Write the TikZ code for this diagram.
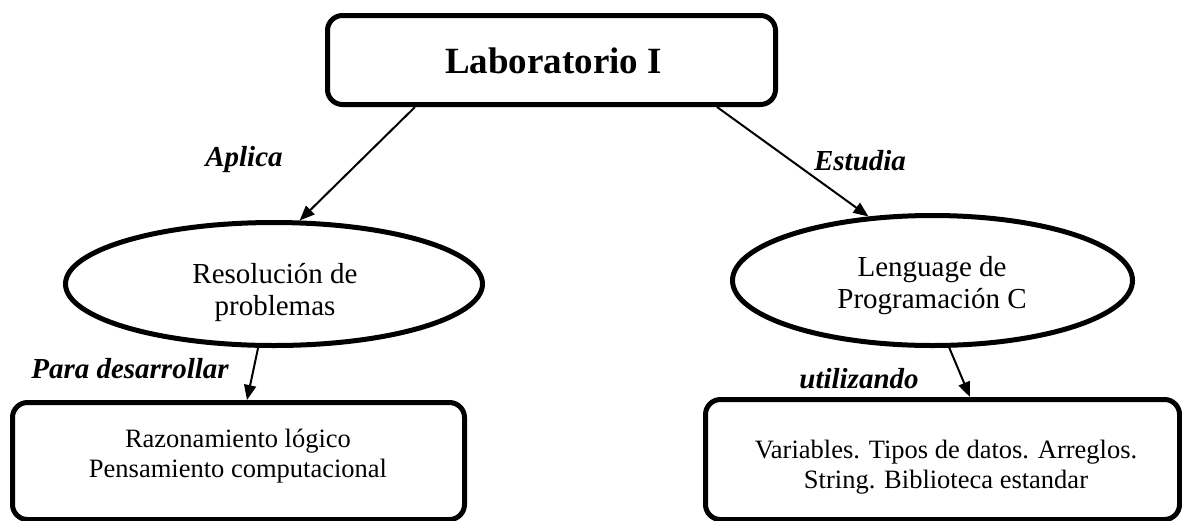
\documentclass[tikz,border=0pt]{standalone}
\usepackage{fontspec}
\setmainfont{Liberation Serif}
\usetikzlibrary{shapes.geometric,arrows.meta}
\begin{document}
\begin{tikzpicture}[x=1pt,y=-1pt,
  shapeline/.style={draw=black,line width=5pt},
  roundbox/.style={shapeline,rectangle,rounded corners=15pt,inner sep=0pt},
  oval/.style={shapeline,ellipse,inner sep=0pt},
  txt/.style={anchor=base,inner sep=0pt,align=center,font=\fontsize{26.5}{30}\selectfont},
  ovaltxt/.style={anchor=base,inner sep=0pt,align=center,font=\fontsize{29}{32}\selectfont},
  titletxt/.style={anchor=base,inner sep=0pt,font=\fontsize{37}{40}\selectfont\bfseries},
  lbl/.style={anchor=base,inner sep=0pt,font=\fontsize{29}{33}\selectfont\bfseries\itshape},
  conn/.style={line width=2pt,-{Triangle[length=15pt,width=12pt]}}]
\clip (0,0) rectangle (1182,520);
\fill[white] (0,0) rectangle (1182,520);

% shapes
\node[roundbox,minimum width=448pt,minimum height=89pt] (top) at (551.5,60) {};
\node[oval,minimum width=417pt,minimum height=123pt] (lres) at (274,284) {};
\node[oval,minimum width=400pt,minimum height=130pt] (rlang) at (932.5,280.5) {};
\node[roundbox,minimum width=452pt,minimum height=117pt] (lbox) at (238.5,461) {};
\node[roundbox,minimum width=474pt,minimum height=120pt] (rbox) at (942.5,459.5) {};

% texts (base anchor = last line's baseline)
\node[titletxt] (toptxt) at (553.5,73) {Laboratorio I};
\node[ovaltxt] (lrestxt) at (275,315) {Resolución de\\problemas};
\node[ovaltxt] (rlangtxt) at (932,308) {Lenguage de\\Programación C};
\node[txt] (lboxtxt) at (238,477) {Razonamiento lógico\\Pensamiento computacional};
\node[txt] (rboxtxt) at (946,488) {Variables. Tipos de datos. Arreglos.\\String. Biblioteca estandar};

% connectors
\draw[conn] ([xshift=-136.5pt]top.south) -- (lres.68);
\draw[conn] ([xshift=165.5pt]top.south) -- (rlang.135);
\draw[conn] (lres.256) -- ([xshift=8.5pt]lbox.north);
\draw[conn] (rlang.284) -- ([xshift=27.5pt]rbox.north);

% connector labels
\node[lbl] (aplica) at (244,166) {Aplica};
\node[lbl] (estudia) at (860,170) {Estudia};
\node[lbl] (para) at (130,378) {Para desarrollar};
\node[lbl] (util) at (859,388) {utilizando};
\end{tikzpicture}
\end{document}
